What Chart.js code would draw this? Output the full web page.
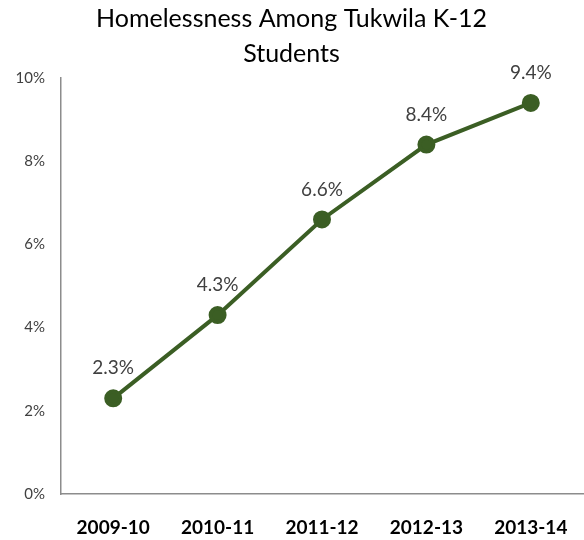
<!DOCTYPE html>
<html lang="en">
<head>
    <meta charset="UTF-8">
    <title>Homelessness Among Tukwila K-12 Students</title>
    <script src="https://cdn.jsdelivr.net/npm/chart.js"></script>
    <style>
        html, body { margin: 0; padding: 0; background: #fff; }
        #wrap { width: 584px; height: 540px; }
    </style>
</head>
<body>
    <div id="wrap">
        <canvas id="myChart"></canvas>
    </div>
    <script>
        // School years and share of students who were homeless (percent)
        const years = ['2009-10', '2010-11', '2011-12', '2012-13', '2013-14'];
        const homelessPct = [2.3, 4.3, 6.6, 8.4, 9.4];
        const titleLines = ['Homelessness Among Tukwila K-12', 'Students'];

        const green = '#3b5e24';
        const fontFamily = 'Lato, "Open Sans", sans-serif';

        // draws the value above each point
        const pointLabels = {
            id: 'pointLabels',
            afterDatasetsDraw(chart) {
                const ctx = chart.ctx;
                const meta = chart.getDatasetMeta(0);
                ctx.save();
                ctx.font = '19px ' + fontFamily;
                ctx.fillStyle = '#404040';
                ctx.textAlign = 'center';
                ctx.textBaseline = 'middle';
                meta.data.forEach((pt, i) => {
                    ctx.fillText(homelessPct[i].toFixed(1) + '%', pt.x, pt.y - 30);
                });
                ctx.restore();
            }
        };

        const ctx = document.getElementById('myChart').getContext('2d');
        const myChart = new Chart(ctx, {
            type: 'line',
            data: {
                labels: years,
                datasets: [{
                    data: homelessPct,
                    borderColor: green,
                    backgroundColor: green,
                    borderWidth: 4,
                    pointRadius: 7,
                    pointHoverRadius: 7,
                    pointBackgroundColor: green,
                    pointBorderColor: green,
                    tension: 0
                }]
            },
            options: {
                responsive: true,
                maintainAspectRatio: false,
                animation: false,
                // v4 pads for the point radius by default, which pulls the axis in from the right edge
                layout: { autoPadding: false, padding: { left: 0, right: 1, top: 0, bottom: 0 } },
                plugins: {
                    legend: { display: false },
                    tooltip: { enabled: false },
                    title: {
                        display: true,
                        text: titleLines,
                        color: '#000',
                        font: { family: fontFamily, size: 25, weight: 'normal', lineHeight: 1.4 },
                        padding: { top: 1, bottom: 7 }
                    }
                },
                scales: {
                    x: {
                        offset: true,
                        grid: { display: false, drawTicks: false },
                        border: { color: '#8c8c8c', width: 1.5 },
                        ticks: {
                            color: '#000',
                            padding: 22,
                            font: { family: fontFamily, size: 19, weight: 'bold' }
                        },
                        afterFit(scale) {
                            scale.height = 46;
                            scale.paddingLeft = 0;
                            scale.paddingRight = 0;
                        }
                    },
                    y: {
                        min: 0,
                        max: 10,
                        grid: { display: false, drawTicks: false },
                        border: { color: '#8c8c8c', width: 1.5 },
                        ticks: {
                            stepSize: 2,
                            color: '#404040',
                            padding: 16,
                            font: { family: fontFamily, size: 15 },
                            callback: v => v + '%'
                        },
                        afterFit(scale) { scale.width = 61; }
                    }
                }
            },
            plugins: [pointLabels]
        });
    </script>
</body>
</html>
